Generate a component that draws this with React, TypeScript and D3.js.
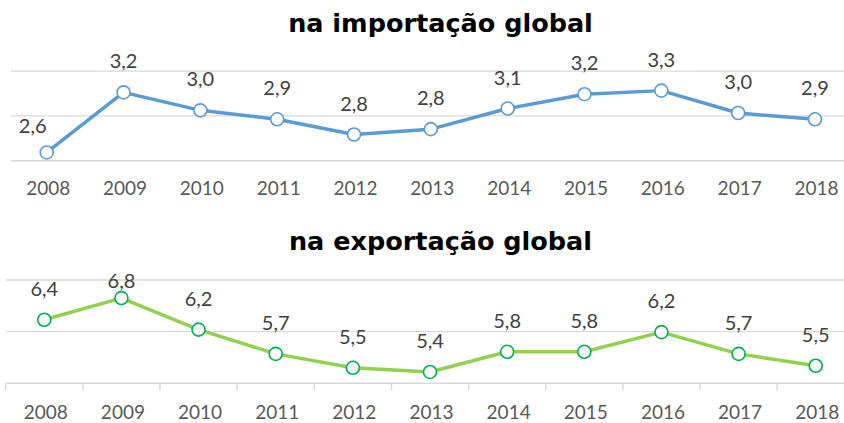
import React from 'react';
import * as d3 from 'd3';

const years = ['2008', '2009', '2010', '2011', '2012', '2013', '2014', '2015', '2016', '2017', '2018'];
const importShare = [2.57, 3.24, 3.04, 2.94, 2.77, 2.83, 3.06, 3.22, 3.26, 3.01, 2.94];
const exportShare = [6.40, 6.82, 6.21, 5.74, 5.47, 5.39, 5.78, 5.78, 6.16, 5.74, 5.51];
const titles = ['na importação global', 'na exportação global'];

const W = 844;
const H = 423;

type Panel = {
  title: string;
  values: number[];
  titleY: number;
  domain: [number, number];
  yRange: [number, number];
  xRange: [number, number];
  gridStep: number;
  gridX0: number;
  axisLabelY: number;
  lineColor: string;
  markerColor: string;
  ticks: boolean;
  labelMinY: number;
  firstLabelShift: [number, number] | null;
};

const panels: Panel[] = [
  {
    title: titles[0],
    values: importShare,
    titleY: 32,
    domain: [2.478, 3.479],
    yRange: [160.7, 71],
    xRange: [8.3, 853.4],
    gridStep: 0.5,
    gridX0: 11,
    axisLabelY: 195,
    lineColor: '#5B9BD5',
    markerColor: '#5B9BD5',
    ticks: false,
    labelMinY: 0,
    firstLabelShift: [-14, 5],
  },
  {
    title: titles[1],
    values: exportShare,
    titleY: 249.5,
    domain: [5.17, 7.17],
    yRange: [383.3, 280],
    xRange: [5.7, 854.3],
    gridStep: 1,
    gridX0: 6,
    axisLabelY: 419,
    lineColor: '#92D050',
    markerColor: '#00B050',
    ticks: true,
    labelMinY: 287.5,
    firstLabelShift: null,
  },
];

const fmt = (v: number) => d3.format('.1f')(v).replace('.', ',');

function ChartPanel({ p }: { p: Panel }) {
  const x = d3.scaleBand<string>().domain(years).range(p.xRange).padding(0);
  const y = d3.scaleLinear().domain(p.domain).range(p.yRange);
  const cx = (yr: string) => (x(yr) as number) + x.bandwidth() / 2;
  const grid = [0, 1, 2].map((k) => p.domain[0] + k * p.gridStep);
  const line = d3
    .line<number>()
    .x((_, i) => cx(years[i]))
    .y((v) => y(v));
  const bottomY = y(p.domain[0]);
  const tickXs = years.map((yr) => x(yr) as number);
  return (
    <g>
      <text
        x={440.5}
        y={p.titleY}
        textAnchor="middle"
        fontFamily="DejaVu Sans"
        fontWeight="bold"
        fontSize={25.5}
        fill="#000"
      >
        {p.title}
      </text>
      {grid.map((g, i) => (
        <line key={i} x1={p.gridX0} x2={W} y1={y(g)} y2={y(g)} stroke="#D9D9D9" strokeWidth={1.4} />
      ))}
      {p.ticks &&
        tickXs.map((tx, i) => (
          <line key={i} x1={tx} x2={tx} y1={bottomY} y2={bottomY + 7} stroke="#D9D9D9" strokeWidth={1.4} />
        ))}
      <path d={line(p.values) || ''} fill="none" stroke={p.lineColor} strokeWidth={3.5} strokeLinejoin="round" />
      {p.values.map((v, i) => (
        <circle key={i} cx={cx(years[i])} cy={y(v)} r={6.5} fill="#fff" stroke={p.markerColor} strokeWidth={1.6} />
      ))}
      {p.values.map((v, i) => {
        let lx = cx(years[i]);
        let ly = Math.max(y(v) - 24, p.labelMinY);
        if (i === 0 && p.firstLabelShift) {
          lx += p.firstLabelShift[0];
          ly += p.firstLabelShift[1];
        }
        return (
          <text key={i} x={lx} y={ly} textAnchor="middle" fontFamily="Lato" fontSize={20} fill="#404040">
            {fmt(v)}
          </text>
        );
      })}
      {years.map((yr) => (
        <text key={yr} x={cx(yr) + 1.5} y={p.axisLabelY} textAnchor="middle" fontFamily="Lato" fontSize={19} fill="#595959">
          {yr}
        </text>
      ))}
    </g>
  );
}

export default function App() {
  return (
    <svg width={W} height={H} style={{ position: 'absolute', left: 0, top: 0, background: '#fff' }}>
      <rect width={W} height={H} fill="#fff" />
      {panels.map((p, i) => (
        <ChartPanel key={i} p={p} />
      ))}
    </svg>
  );
}
